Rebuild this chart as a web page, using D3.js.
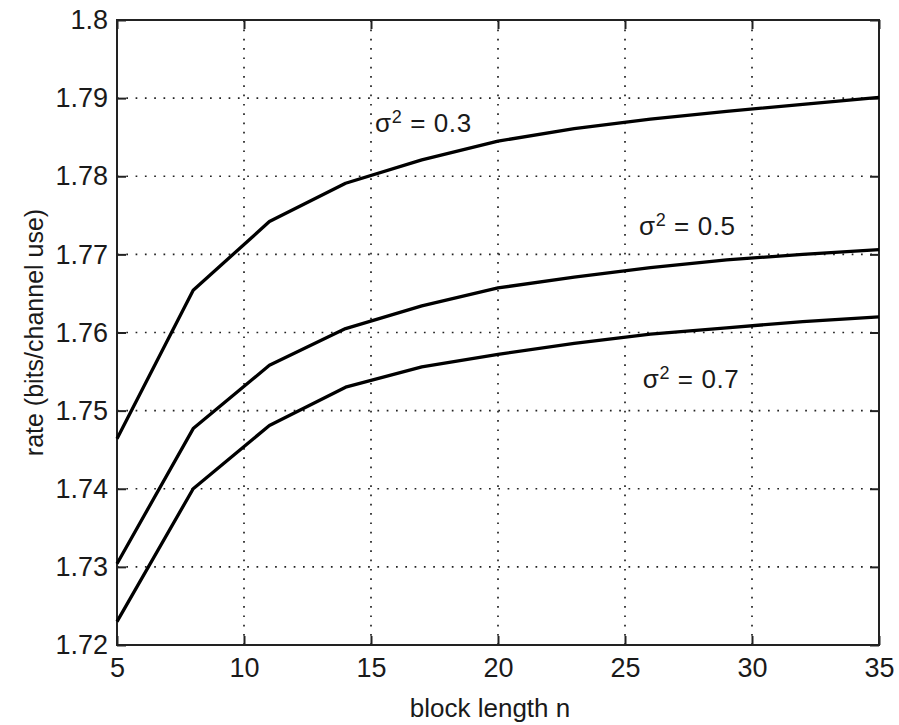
<!DOCTYPE html>
<html>
<head>
<meta charset="utf-8">
<script src="https://cdn.jsdelivr.net/npm/d3@7"></script>
<style>
  body { margin: 0; background: #fff; }
  text { font-family: "Liberation Sans", Arial, sans-serif; fill: #1a1a1a; }
</style>
</head>
<body>
<div id="chart"></div>
<script>
// block length n
var blockLen = [5, 8, 11, 14, 17, 20, 23, 26, 29, 32, 35];
// rate for each noise variance
var rate03 = [1.7464, 1.7654, 1.7742, 1.7791, 1.7821, 1.7845, 1.7861, 1.7873, 1.7883, 1.7892, 1.7901];
var rate05 = [1.7304, 1.7477, 1.7558, 1.7605, 1.7634, 1.7657, 1.7671, 1.7683, 1.7693, 1.7700, 1.7706];
var rate07 = [1.7230, 1.7400, 1.7481, 1.7530, 1.7556, 1.7572, 1.7586, 1.7598, 1.7606, 1.7614, 1.7620];
var seriesNames = ["0.3", "0.5", "0.7"];
// where each sigma^2 label sits, in data units (n, rate)
var labelPos = [[15.16, 1.7857], [25.55, 1.7725], [25.7, 1.7529]];
var xTicks = [5, 10, 15, 20, 25, 30, 35];
var yTicks = [1.72, 1.73, 1.74, 1.75, 1.76, 1.77, 1.78, 1.79, 1.8];

var width = 899, height = 725;
var plotL = 117, plotR = 879, plotT = 20, plotB = 645;

var svg = d3.select("#chart")
            .append("svg")
            .attr("width", width)
            .attr("height", height);

svg.append("rect")
   .attr("width", width)
   .attr("height", height)
   .style("fill", "#fff");

var x = d3.scaleLinear().domain([5, 35]).range([plotL, plotR]);
var y = d3.scaleLinear().domain([1.72, 1.8]).range([plotB, plotT]);

// dotted grid
var grid = svg.append("g")
              .style("stroke", "#222")
              .style("stroke-width", 1.7)
              .style("stroke-dasharray", "1.7,7.6");

grid.selectAll("line.gx")
    .data(xTicks.slice(1, -1))
    .enter()
    .append("line")
    .attr("class", "gx")
    .attr("x1", function(d) { return x(d); })
    .attr("x2", function(d) { return x(d); })
    .attr("y1", plotB)
    .attr("y2", plotT);

grid.selectAll("line.gy")
    .data(yTicks.slice(1, -1))
    .enter()
    .append("line")
    .attr("class", "gy")
    .attr("x1", plotL)
    .attr("x2", plotR)
    .attr("y1", function(d) { return y(d); })
    .attr("y2", function(d) { return y(d); });

// axes, ticks pointing inward on all four sides
var fontSize = "27px";

svg.append("g")
   .attr("transform", "translate(0," + plotB + ")")
   .call(d3.axisBottom(x).tickValues(xTicks).tickSize(-9).tickSizeOuter(0).tickPadding(13)
           .tickFormat(d3.format("d")));

svg.append("g")
   .attr("transform", "translate(" + plotL + ",0)")
   .call(d3.axisLeft(y).tickValues(yTicks).tickSize(-9).tickSizeOuter(0).tickPadding(9)
           .tickFormat(function(d) { return String(+d.toFixed(2)); }));

svg.append("g")
   .attr("transform", "translate(0," + plotT + ")")
   .call(d3.axisTop(x).tickValues(xTicks).tickSize(-9).tickSizeOuter(0).tickFormat(""));

svg.append("g")
   .attr("transform", "translate(" + plotR + ",0)")
   .call(d3.axisRight(y).tickValues(yTicks).tickSize(-9).tickSizeOuter(0).tickFormat(""));

svg.selectAll(".tick line").style("stroke", "#222").style("stroke-width", 2);
svg.selectAll(".domain").remove();
svg.selectAll(".tick text")
   .style("font-size", fontSize)
   .style("font-family", "'Liberation Sans', Arial, sans-serif")
   .style("fill", "#1a1a1a");

// frame
svg.append("rect")
   .attr("x", plotL)
   .attr("y", plotT)
   .attr("width", plotR - plotL)
   .attr("height", plotB - plotT)
   .style("fill", "none")
   .style("stroke", "#222")
   .style("stroke-width", 2);

// curves
var line = d3.line()
             .x(function(d) { return x(d[0]); })
             .y(function(d) { return y(d[1]); });

var allSeries = [rate03, rate05, rate07];

svg.selectAll("path.curve")
   .data(allSeries)
   .enter()
   .append("path")
   .attr("class", "curve")
   .attr("d", function(d) { return line(d.map(function(v, i) { return [blockLen[i], v]; })); })
   .style("fill", "none")
   .style("stroke", "#000")
   .style("stroke-width", 3.3)
   .style("stroke-linejoin", "round");

// sigma^2 labels
var labels = svg.selectAll("text.sig")
   .data(seriesNames)
   .enter()
   .append("text")
   .attr("class", "sig")
   .attr("x", function(d, i) { return x(labelPos[i][0]); })
   .attr("y", function(d, i) { return y(labelPos[i][1]); })
   .style("font-size", "26px")
   .style("letter-spacing", "0.6px");

labels.append("tspan").text("σ");
labels.append("tspan").attr("dy", -9).style("font-size", "18px").text("2");
labels.append("tspan").attr("dy", 9).text(function(d) { return " = " + d; });

// axis titles
svg.append("text")
   .attr("x", (plotL + plotR) / 2 - 8)
   .attr("y", 717)
   .attr("text-anchor", "middle")
   .style("font-size", "26px")
   .text("block length n");

svg.append("text")
   .attr("transform", "translate(43," + ((plotT + plotB) / 2) + ") rotate(-90)")
   .attr("text-anchor", "middle")
   .style("font-size", "25px")
   .text("rate (bits/channel use)");
</script>
</body>
</html>
